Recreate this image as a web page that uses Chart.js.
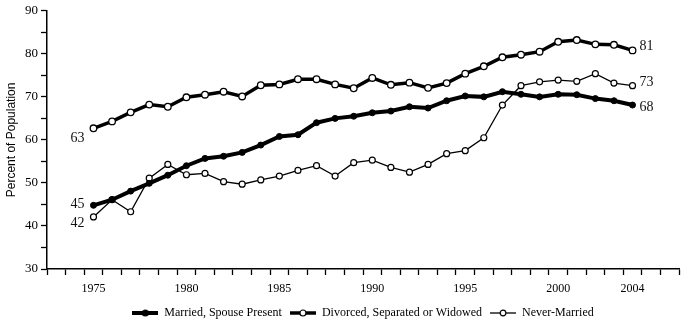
<!DOCTYPE html>
<html>
<head>
<meta charset="utf-8">
<script src="https://cdn.jsdelivr.net/npm/chart.js@4.4.1/dist/chart.umd.min.js"></script>
<style>
  html, body { margin: 0; padding: 0; background: #fff; }
  #wrap { width: 689px; height: 334px; }
</style>
</head>
<body>
<div id="wrap"><canvas id="popChart"></canvas></div>
<script>
// category slots on the x axis (one per year, padded either side)
const axisYears = ['1973', '1974', '1975', '1976', '1977', '1978', '1979', '1980', '1981', '1982',
  '1983', '1984', '1985', '1986', '1987', '1988', '1989', '1990', '1991', '1992', '1993', '1994',
  '1995', '1996', '1997', '1998', '1999', '2000', '2001', '2002', '2003', '2004', '2005', '2006'];
const labelledYears = ['1975', '1980', '1985', '1990', '1995', '2000', '2004'];
const years = ['1975', '1976', '1977', '1978', '1979', '1980', '1981', '1982', '1983', '1984',
  '1985', '1986', '1987', '1988', '1989', '1990', '1991', '1992', '1993', '1994',
  '1995', '1996', '1997', '1998', '1999', '2000', '2001', '2002', '2003', '2004'];

const married = [44.8, 46.1, 48.1, 49.9, 51.8, 54.0, 55.7, 56.2, 57.1, 58.8,
  60.8, 61.2, 64.0, 65.0, 65.5, 66.3, 66.7, 67.7, 67.4, 69.1,
  70.2, 70.0, 71.2, 70.6, 70.0, 70.6, 70.5, 69.6, 69.1, 68.1];
const divorced = [62.7, 64.3, 66.4, 68.2, 67.7, 69.9, 70.5, 71.2, 70.1, 72.7,
  72.9, 74.1, 74.1, 72.9, 72.0, 74.4, 72.8, 73.3, 72.1, 73.2,
  75.4, 77.1, 79.2, 79.8, 80.5, 82.8, 83.2, 82.2, 82.1, 80.8];
const neverMarried = [42.1, 46.1, 43.3, 51.1, 54.3, 51.9, 52.2, 50.3, 49.7, 50.7,
  51.6, 52.9, 54.0, 51.6, 54.7, 55.3, 53.6, 52.5, 54.3, 56.8,
  57.5, 60.5, 68.1, 72.6, 73.5, 73.9, 73.6, 75.4, 73.2, 72.6];

const yMin = 30;
const yMax = 90;

const serif = '"Liberation Serif", "Times New Roman", serif';
const sans = '"Liberation Sans", Arial, sans-serif';

const toPoints = (values) => values.map((v, i) => ({ x: years[i], y: v }));

// little line-with-marker glyphs for the legend
const makeSymbol = (lineWidth, filled, radius) => {
  const c = document.createElement('canvas');
  c.width = 26;
  c.height = 10;
  const g = c.getContext('2d');
  g.strokeStyle = '#000';
  g.lineWidth = lineWidth;
  g.beginPath();
  g.moveTo(0, 5);
  g.lineTo(26, 5);
  g.stroke();
  g.beginPath();
  g.arc(13, 5, radius, 0, Math.PI * 2);
  g.fillStyle = filled ? '#000' : '#fff';
  g.fill();
  g.lineWidth = 1.2;
  g.stroke();
  return c;
};
const legendSymbols = [makeSymbol(4, true, 3), makeSymbol(3.5, false, 3), makeSymbol(1.3, false, 2.8)];

// first/last value labels: [dataset, index, side, dy]
const endLabels = [
  [0, 0, 'left', -1], [1, 0, 'left', 10], [2, 0, 'left', 6],
  [0, years.length - 1, 'right', 2], [1, years.length - 1, 'right', -4], [2, years.length - 1, 'right', -3]
];

const endLabelPlugin = {
  id: 'endLabels',
  afterDatasetsDraw(chart) {
    const ctx = chart.ctx;
    ctx.save();
    ctx.font = '14px ' + serif;
    ctx.fillStyle = '#111';
    ctx.textBaseline = 'middle';
    endLabels.forEach(([ds, idx, side, dy]) => {
      const pt = chart.getDatasetMeta(ds).data[idx];
      const value = chart.data.datasets[ds].data[idx].y;
      const text = String(Math.round(value));
      if (side === 'left') {
        ctx.textAlign = 'right';
        ctx.fillText(text, pt.x - 9, pt.y + dy);
      } else {
        ctx.textAlign = 'left';
        ctx.fillText(text, pt.x + 7, pt.y + dy);
      }
    });
    ctx.restore();
  }
};

new Chart(document.getElementById('popChart'), {
  type: 'line',
  data: {
    labels: axisYears,
    datasets: [
      {
        label: 'Married, Spouse Present',
        data: toPoints(married),
        borderColor: '#000',
        borderWidth: 4,
        pointRadius: 3,
        pointBackgroundColor: '#000',
        pointBorderColor: '#000',
        pointBorderWidth: 1,
        tension: 0
      },
      {
        label: 'Divorced, Separated or Widowed',
        data: toPoints(divorced),
        borderColor: '#000',
        borderWidth: 3.5,
        pointRadius: 3.3,
        pointBackgroundColor: '#fff',
        pointBorderColor: '#000',
        pointBorderWidth: 1.3,
        tension: 0
      },
      {
        label: 'Never-Married',
        data: toPoints(neverMarried),
        borderColor: '#000',
        borderWidth: 1.3,
        pointRadius: 3,
        pointBackgroundColor: '#fff',
        pointBorderColor: '#000',
        pointBorderWidth: 1.2,
        tension: 0
      }
    ]
  },
  options: {
    responsive: true,
    maintainAspectRatio: false,
    animation: false,
    layout: { padding: { top: 10, right: 10, bottom: 5, left: 0 } },
    scales: {
      x: {
        type: 'category',
        offset: true,
        grid: {
          offset: true,
          drawOnChartArea: false,
          drawTicks: true,
          tickLength: 6,
          tickWidth: 1.3,
          tickColor: '#000'
        },
        border: { display: true, color: '#000', width: 1.5 },
        ticks: {
          autoSkip: false,
          maxRotation: 0,
          padding: 7,
          color: '#000',
          font: { family: serif, size: 12 },
          callback(value) {
            const label = this.getLabelForValue(value);
            return labelledYears.includes(label) ? label : '';
          }
        },
        afterFit(scale) { scale.height = 30; }
      },
      y: {
        min: yMin,
        max: yMax,
        grid: {
          drawOnChartArea: false,
          drawTicks: true,
          tickLength: 6,
          tickWidth: 1.3,
          tickColor: '#000'
        },
        border: { display: true, color: '#000', width: 1.5 },
        ticks: {
          stepSize: 5,
          padding: 3,
          color: '#000',
          font: { family: serif, size: 13 },
          callback: (v) => (v % 10 === 0 ? String(v) : '')
        },
        title: {
          display: true,
          text: 'Percent of Population',
          color: '#000',
          font: { family: sans, size: 12 },
          padding: { top: 4, bottom: 0 }
        },
        afterFit(scale) { scale.width = 47; }
      }
    },
    plugins: {
      legend: {
        position: 'bottom',
        fullSize: false,
        labels: {
          usePointStyle: true,
          pointStyleWidth: 26,
          padding: 8,
          color: '#000',
          font: { family: serif, size: 12 },
          generateLabels: (chart) => chart.data.datasets.map((ds, i) => ({
            text: ds.label,
            pointStyle: legendSymbols[i],
            datasetIndex: i,
            fillStyle: 'transparent',
            strokeStyle: 'transparent',
            lineWidth: 0,
            hidden: false
          }))
        }
      },
      tooltip: { enabled: false }
    }
  },
  plugins: [endLabelPlugin]
});
</script>
</body>
</html>
